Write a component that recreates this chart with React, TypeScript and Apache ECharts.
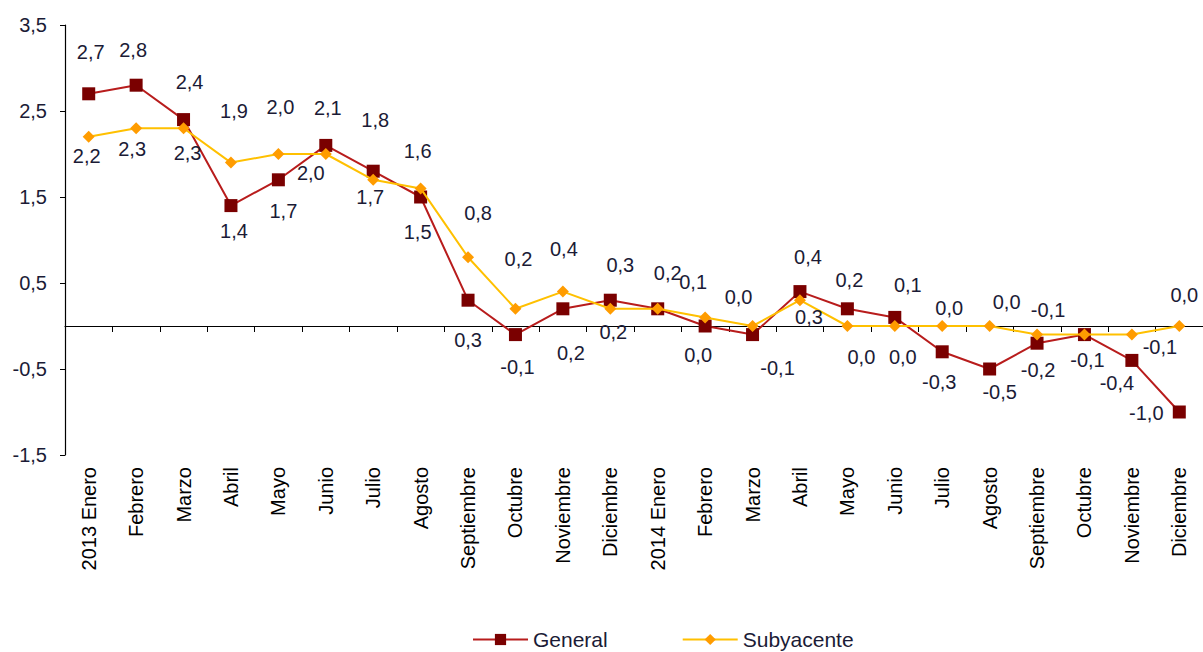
import React, { useEffect, useRef } from "react";
import * as echarts from "echarts";

const categories = [
  "2013 Enero", "Febrero", "Marzo", "Abril", "Mayo", "Junio", "Julio", "Agosto",
  "Septiembre", "Octubre", "Noviembre", "Diciembre",
  "2014 Enero", "Febrero", "Marzo", "Abril", "Mayo", "Junio", "Julio", "Agosto",
  "Septiembre", "Octubre", "Noviembre", "Diciembre",
];

const generalValues = [
  2.7, 2.8, 2.4, 1.4, 1.7, 2.1, 1.8, 1.5, 0.3, -0.1, 0.2, 0.3,
  0.2, 0.0, -0.1, 0.4, 0.2, 0.1, -0.3, -0.5, -0.2, -0.1, -0.4, -1.0,
];

const subyacenteValues = [
  2.2, 2.3, 2.3, 1.9, 2.0, 2.0, 1.7, 1.6, 0.8, 0.2, 0.4, 0.2,
  0.2, 0.1, 0.0, 0.3, 0.0, 0.0, 0.0, 0.0, -0.1, -0.1, -0.1, 0.0,
];

const yTicks = { min: -1.5, max: 3.5, interval: 1 };

// label placement (style): offset from the point, null = label hidden
const generalLabelOffsets: ([number, number] | null)[] = [
  [2, -42], [-3, -35], [6, -38], [3, 25], [5, 31], [2, -37], [2, -51], [-3, 35],
  [0, 40], [2, 32], [8, 44], [10, -35],
  [10, -36], [-7, 29], [25, 33], [8, -35], [2, -29], [13, -32], [-3, 30], [10, 23],
  [1, 27], [3, 25], [-15, 23], [-33, 1],
];

const subyacenteLabelOffsets: ([number, number] | null)[] = [
  [-2, 19], [-4, 21], [4, 25], [3, -52], [2, -47], [-15, 19], [-3, 17], [-3, -37],
  [10, -44], [3, -50], [1, -43], [3, 23],
  null, [-12, -35], [-14, -29], [9, 17], [14, 31], [8, 31], [7, -18], [17, -24],
  [11, -25], null, [28, 12], [5, -31],
];

const fmt = (v: number) => v.toFixed(1).replace(".", ",");
const textColor = "#1b1b36";
const font = "'Liberation Sans', Arial, sans-serif";

function buildData(values: number[], offsets: ([number, number] | null)[]) {
  return values.map((v, i) => {
    const off = offsets[i];
    return {
      value: v,
      label: off ? { show: true, offset: off } : { show: false },
    };
  });
}

export default function App() {
  const ref = useRef<HTMLDivElement>(null);

  useEffect(() => {
    if (!ref.current) return;
    const chart = echarts.init(ref.current, undefined, { renderer: "svg" });
    const labelBase = {
      show: true,
      position: "inside",
      formatter: (p: any) => fmt(p.value),
      fontSize: 20,
      color: textColor,
      fontFamily: font,
    };
    chart.setOption({
      animation: false,
      backgroundColor: "#ffffff",
      textStyle: { fontFamily: font },
      grid: { left: 65, right: 0, top: 25, bottom: 197, containLabel: false },
      legend: {
        left: 467,
        top: 624,
        itemWidth: 55,
        itemHeight: 14,
        itemGap: 74,
        textStyle: { fontSize: 21, color: textColor, fontFamily: font, lineHeight: 21 },
        data: ["General", "Subyacente"],
      },
      xAxis: [
        {
          type: "category",
          data: categories,
          position: "bottom",
          axisLine: { show: false, onZero: false },
          axisTick: { show: false },
          axisLabel: {
            rotate: 90,
            fontSize: 20,
            color: "#000",
            margin: 12,
            interval: 0,
            fontFamily: font,
          },
          splitLine: { show: false },
        },
        {
          type: "category",
          data: categories,
          position: "top",
          axisLine: { show: true, onZero: true, lineStyle: { color: "#000", width: 1.2 } },
          axisTick: { show: true, inside: true, length: 6, lineStyle: { color: "#000" }, interval: 0 },
          axisLabel: { show: false },
          splitLine: { show: false },
        },
      ],
      yAxis: {
        type: "value",
        min: yTicks.min,
        max: yTicks.max,
        interval: yTicks.interval,
        axisLine: { show: true, lineStyle: { color: "#000", width: 1.2 } },
        axisTick: { show: true, length: 5, lineStyle: { color: "#000" } },
        axisLabel: {
          formatter: (v: number) => fmt(v),
          fontSize: 20,
          color: textColor,
          margin: 18,
          fontFamily: font,
        },
        splitLine: { show: false },
      },
      series: [
        {
          name: "General",
          type: "line",
          xAxisIndex: 0,
          data: buildData(generalValues, generalLabelOffsets),
          symbol: "rect",
          symbolSize: 13,
          showAllSymbol: true,
          lineStyle: { color: "#b81c1c", width: 2 },
          itemStyle: { color: "#7a0000" },
          label: labelBase,
          z: 2,
        },
        {
          name: "Subyacente",
          type: "line",
          xAxisIndex: 0,
          data: buildData(subyacenteValues, subyacenteLabelOffsets),
          symbol: "diamond",
          symbolSize: 12,
          showAllSymbol: true,
          lineStyle: { color: "#ffc000", width: 2 },
          itemStyle: { color: "#ff9c00" },
          label: labelBase,
          z: 3,
        },
      ],
    });
    return () => chart.dispose();
  }, []);

  return (
    <div
      ref={ref}
      style={{ position: "absolute", left: 0, top: 0, width: 1203, height: 652 }}
    />
  );
}
